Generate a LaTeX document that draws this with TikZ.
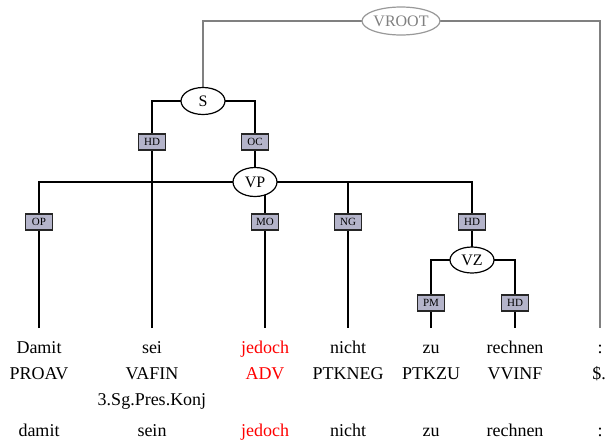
\documentclass[tikz,border=0pt]{standalone}
\usepackage{fontspec}
\setmainfont{Liberation Serif}
\usetikzlibrary{shapes.geometric,backgrounds}
\definecolor{lblfill}{RGB}{180,180,202}
\definecolor{rootgray}{RGB}{128,128,128}
\definecolor{wred}{RGB}{255,0,0}
\tikzset{
  cat/.style={ellipse,draw=black,line width=1.2pt,fill=white,inner sep=0pt,
    minimum width=44pt,minimum height=27pt,font=\fontsize{16}{18}\selectfont},
  rootcat/.style={cat,draw=rootgray!80,text=rootgray,minimum width=76pt,minimum height=28pt},
  lbl/.style={rectangle,draw=black!85,line width=1.2pt,fill=lblfill,inner sep=0pt,
    minimum width=27pt,minimum height=16pt,font=\fontsize{11}{12}\selectfont},
  tok/.style={anchor=base,inner sep=0pt,font=\fontsize{18}{20}\selectfont},
  edge/.style={line width=1.3pt,draw=black},
  rootedge/.style={line width=1.3pt,draw=rootgray}
}
\begin{document}
\begin{tikzpicture}[x=1pt,y=-1pt]
\useasboundingbox (0,0) rectangle (607,440);
% category nodes
\node[rootcat] (vroot) at (401,21) {VROOT};
\node[cat] (S) at (203,101) {S};
\node[cat,minimum height=29pt] (VP) at (255,182) {VP};
\node[cat,minimum height=26pt] (VZ) at (472,260) {VZ};
% edge labels
\node[lbl] (hdS) at (152,142) {HD};
\node[lbl] (oc) at (255,142) {OC};
\node[lbl] (op) at (39,222) {OP};
\node[lbl] (mo) at (265,222) {MO};
\node[lbl] (ng) at (348,222) {NG};
\node[lbl] (hdVP) at (472,222) {HD};
\node[lbl] (pm) at (431,303) {PM};
\node[lbl] (hdVZ) at (515,303) {HD};
% leaf ends
\coordinate (t1) at (39,328);
\coordinate (t2) at (152,328);
\coordinate (t3) at (265,328);
\coordinate (t4) at (348,328);
\coordinate (t5) at (431,328);
\coordinate (t6) at (515,328);
\coordinate (t7) at (600,328);
% tokens
\node[tok] (w1) at (39,353) {Damit};
\node[tok] (w2) at (152,353) {sei};
\node[tok,text=wred] (w3) at (265,353) {jedoch};
\node[tok] (w4) at (348,353) {nicht};
\node[tok] (w5) at (431,353) {zu};
\node[tok] (w6) at (515,353) {rechnen};
\node[tok] (w7) at (600,353) {:};
\node[tok] (p1) at (39,379) {PROAV};
\node[tok] (p2) at (152,379) {VAFIN};
\node[tok,text=wred] (p3) at (265,379) {ADV};
\node[tok] (p4) at (348,379) {PTKNEG};
\node[tok] (p5) at (431,379) {PTKZU};
\node[tok] (p6) at (515,379) {VVINF};
\node[tok] (p7) at (599,379) {\$.};
\node[tok] (m2) at (152,405) {3.Sg.Pres.Konj};
\node[tok] (l1) at (39,436) {damit};
\node[tok] (l2) at (152,436) {sein};
\node[tok,text=wred] (l3) at (265,436) {jedoch};
\node[tok] (l4) at (348,436) {nicht};
\node[tok] (l5) at (431,436) {zu};
\node[tok] (l6) at (515,436) {rechnen};
\node[tok] (l7) at (600,436) {:};
% connectors
\begin{scope}[on background layer]
\draw[rootedge] (S.center) |- (vroot.center) -| (t7);
\draw[edge] (t2) -- (hdS.center) |- (S.center) -| (oc.center) -- (VP.center);
\draw[edge] (t1) -- (op.center) |- (VP.center) -| (hdVP.center) -- (VZ.center);
\draw[edge] (VP.center) -| (ng.center) -- (t4);
\draw[edge] (mo.center |- VP.center) -- (mo.center) -- (t3);
\draw[edge] (t5) -- (pm.center) |- (VZ.center) -| (hdVZ.center) -- (t6);
\end{scope}
\end{tikzpicture}
\end{document}
